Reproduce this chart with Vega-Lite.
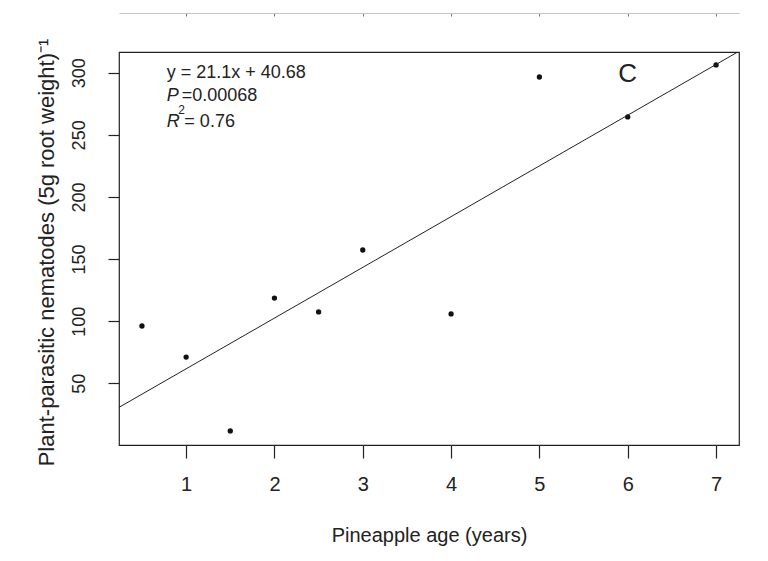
{
  "$schema": "https://vega.github.io/schema/vega-lite/v6.json",
  "width": 620,
  "height": 393,
  "autosize": {"type": "none"},
  "padding": {"left": 119, "top": 52, "right": 29, "bottom": 116},
  "background": "white",
  "config": {
    "font": "Liberation Sans",
    "view": {"stroke": "#222", "strokeWidth": 1.2},
    "axis": {"grid": false, "domain": false, "tickColor": "#222", "tickWidth": 1.2, "labelColor": "#222", "titleColor": "#222", "labelFont": "Liberation Sans", "titleFont": "Liberation Sans", "titleFontWeight": "normal"}
  },
  "datasets": {
    "pts": [
      {"age": 0.5, "n": 96.1},
      {"age": 1, "n": 71.1},
      {"age": 1.5, "n": 11.6},
      {"age": 2, "n": 118.6},
      {"age": 2.5, "n": 107.4},
      {"age": 3, "n": 157.3},
      {"age": 4, "n": 105.8},
      {"age": 5, "n": 296.6},
      {"age": 6, "n": 264.4},
      {"age": 7, "n": 306.3}
    ],
    "ann": [
      {"t": "y = 21.1x + 40.68", "x": 0.78, "y": 300, "k": "r"},
      {"t": "P", "x": 0.78, "y": 281, "k": "i"},
      {"t": "=0.00068", "x": 0.95, "y": 281, "k": "r"},
      {"t": "R", "x": 0.78, "y": 260, "k": "i"},
      {"t": "= 0.76", "x": 0.98, "y": 260, "k": "r"},
      {"t": "2", "x": 0.91, "y": 270, "k": "s"},
      {"t": "C", "x": 6, "y": 299, "k": "c"}
    ]
  },
  "resolve": {"axis": {"x": "independent", "y": "independent"}},
  "layer": [
    {
      "data": {"name": "pts"},
      "mark": {"type": "point", "filled": true, "color": "#111", "size": 28, "opacity": 1},
      "encoding": {
        "x": {"field": "age", "type": "quantitative",
          "scale": {"domain": [0.24, 7.26], "nice": false, "zero": false},
          "axis": {"orient": "bottom", "values": [1, 2, 3, 4, 5, 6, 7], "tickSize": 13, "labelFontSize": 20, "labelPadding": 16, "title": "Pineapple age (years)", "titleFontSize": 20, "titlePadding": 31}},
        "y": {"field": "n", "type": "quantitative",
          "scale": {"domain": [0.28, 316.72], "nice": false, "zero": false},
          "axis": {"orient": "left", "values": [50, 100, 150, 200, 250, 300], "tickSize": 11, "labelFontSize": 18, "labelAngle": -90, "labelAlign": "center", "labelBaseline": "bottom", "labelPadding": 20, "title": "Plant-parasitic nematodes (5g root weight)⁻¹", "titleFontSize": 22, "titleAngle": -90, "titleAlign": "center", "titleBaseline": "middle", "titleX": -73, "titleY": 200}}
      }
    },
    {
      "data": {"name": "pts"},
      "transform": [{"regression": "n", "on": "age", "extent": [0.24, 7.26]}],
      "mark": {"type": "line", "color": "#222", "strokeWidth": 1, "clip": true},
      "encoding": {
        "x": {"field": "age", "type": "quantitative",
          "axis": {"orient": "top", "offset": 39, "values": [1, 2, 3, 4, 5, 6, 7], "domain": true, "domainColor": "#c4c4c4", "domainWidth": 1, "tickColor": "#777", "tickSize": -3, "tickWidth": 1, "labels": false, "title": null}},
        "y": {"field": "n", "type": "quantitative", "axis": null}
      }
    },
    {
      "data": {"name": "ann"},
      "transform": [{"filter": "datum.k === 'r'"}],
      "mark": {"type": "text", "align": "left", "baseline": "middle", "fontSize": 18, "color": "#222", "font": "Liberation Sans"},
      "encoding": {
        "x": {"field": "x", "type": "quantitative", "axis": null},
        "y": {"field": "y", "type": "quantitative", "axis": null},
        "text": {"field": "t"}
      }
    },
    {
      "data": {"name": "ann"},
      "transform": [{"filter": "datum.k === 'i'"}],
      "mark": {"type": "text", "align": "left", "baseline": "middle", "fontSize": 18, "fontStyle": "italic", "color": "#222", "font": "Liberation Sans"},
      "encoding": {
        "x": {"field": "x", "type": "quantitative", "axis": null},
        "y": {"field": "y", "type": "quantitative", "axis": null},
        "text": {"field": "t"}
      }
    },
    {
      "data": {"name": "ann"},
      "transform": [{"filter": "datum.k === 's'"}],
      "mark": {"type": "text", "align": "left", "baseline": "middle", "fontSize": 12, "color": "#222", "font": "Liberation Sans"},
      "encoding": {
        "x": {"field": "x", "type": "quantitative", "axis": null},
        "y": {"field": "y", "type": "quantitative", "axis": null},
        "text": {"field": "t"}
      }
    },
    {
      "data": {"name": "ann"},
      "transform": [{"filter": "datum.k === 'c'"}],
      "mark": {"type": "text", "align": "center", "baseline": "middle", "fontSize": 26, "color": "#222", "font": "Liberation Sans"},
      "encoding": {
        "x": {"field": "x", "type": "quantitative", "axis": null},
        "y": {"field": "y", "type": "quantitative", "axis": null},
        "text": {"field": "t"}
      }
    }
  ]
}
